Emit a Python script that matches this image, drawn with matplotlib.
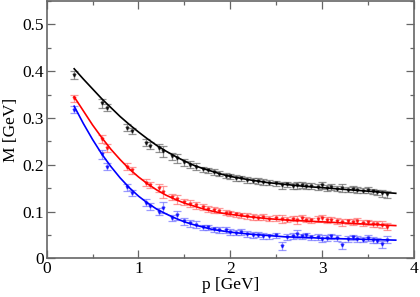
import matplotlib
matplotlib.use("Agg")
import matplotlib.pyplot as plt
from matplotlib.ticker import MultipleLocator

p = [0.3, 0.6, 0.66, 0.88, 0.93, 1.08, 1.13, 1.22, 1.27, 1.36, 1.42, 1.5, 1.56, 1.63, 1.7,
     1.76, 1.82, 1.88, 1.95, 2.0, 2.06, 2.12, 2.18, 2.25, 2.3, 2.36, 2.42, 2.5, 2.56, 2.62,
     2.68, 2.72, 2.78, 2.82, 2.88, 2.95, 3.0, 3.05, 3.1, 3.16, 3.22, 3.28, 3.33, 3.38, 3.44,
     3.5, 3.55, 3.6, 3.65, 3.7]

m_black = [0.392, 0.331, 0.322, 0.279, 0.272, 0.247, 0.241, 0.236, 0.229, 0.218, 0.214, 0.205,
           0.200, 0.196, 0.190, 0.188, 0.184, 0.181, 0.177, 0.175, 0.172, 0.171, 0.168, 0.166,
           0.165, 0.163, 0.162, 0.160, 0.156, 0.158, 0.155, 0.156, 0.157, 0.154, 0.155, 0.153,
           0.156, 0.151, 0.152, 0.149, 0.150, 0.147, 0.148, 0.146, 0.145, 0.146, 0.143, 0.141,
           0.139, 0.137]
m_red = [0.342, 0.255, 0.236, 0.196, 0.188, 0.162, 0.157, 0.150, 0.142, 0.131, 0.126, 0.120,
         0.117, 0.113, 0.110, 0.106, 0.104, 0.102, 0.098, 0.096, 0.094, 0.092, 0.091, 0.088,
         0.087, 0.088, 0.085, 0.086, 0.084, 0.083, 0.085, 0.082, 0.087, 0.083, 0.081, 0.084,
         0.086, 0.082, 0.083, 0.080, 0.077, 0.079, 0.078, 0.080, 0.076, 0.077, 0.074, 0.073,
         0.072, 0.068]
m_blue = [0.318, 0.222, 0.196, 0.152, 0.140, 0.119, 0.111, 0.100, 0.108, 0.086, 0.092, 0.079,
          0.075, 0.072, 0.066, 0.066, 0.062, 0.060, 0.061, 0.057, 0.055, 0.056, 0.052, 0.050,
          0.051, 0.048, 0.047, 0.049, 0.026, 0.046, 0.048, 0.052, 0.047, 0.049, 0.045, 0.046,
          0.042, 0.044, 0.047, 0.043, 0.028, 0.041, 0.045, 0.042, 0.040, 0.043, 0.039, 0.038,
          0.030, 0.040]
err = [0.008, 0.009, 0.008, 0.007, 0.007, 0.007, 0.007, 0.008, 0.012, 0.007, 0.010, 0.007,
       0.007, 0.007, 0.006, 0.006, 0.006, 0.006, 0.006, 0.006, 0.006, 0.006, 0.006, 0.006,
       0.006, 0.006, 0.006, 0.006, 0.008, 0.006, 0.006, 0.008, 0.006, 0.006, 0.006, 0.006,
       0.007, 0.006, 0.006, 0.006, 0.008, 0.006, 0.006, 0.006, 0.006, 0.006, 0.006, 0.006,
       0.008, 0.007]

fit_p = [0.3, 0.4, 0.5, 0.6, 0.7, 0.8, 0.9, 1.0, 1.1, 1.2, 1.3, 1.4, 1.5, 1.6, 1.7, 1.8, 1.9,
         2.0, 2.2, 2.4, 2.6, 2.8, 3.0, 3.2, 3.4, 3.6, 3.8]
fit_black = [0.405, 0.383, 0.362, 0.341, 0.322, 0.303, 0.286, 0.270, 0.255, 0.241, 0.229,
             0.218, 0.208, 0.199, 0.192, 0.186, 0.180, 0.175, 0.168, 0.162, 0.158, 0.154,
             0.151, 0.148, 0.145, 0.142, 0.139]
fit_red = [0.345, 0.315, 0.285, 0.258, 0.233, 0.211, 0.191, 0.174, 0.159, 0.146, 0.135,
           0.126, 0.118, 0.112, 0.106, 0.101, 0.097, 0.094, 0.089, 0.085, 0.082, 0.080,
           0.078, 0.076, 0.074, 0.072, 0.070]
fit_blue = [0.325, 0.288, 0.254, 0.223, 0.196, 0.172, 0.151, 0.133, 0.118, 0.105, 0.095,
            0.086, 0.078, 0.072, 0.067, 0.062, 0.059, 0.056, 0.052, 0.049, 0.046, 0.045,
            0.043, 0.042, 0.041, 0.040, 0.039]

plt.rcParams['font.family'] = ['Liberation Serif', 'DejaVu Serif']
fig = plt.figure(figsize=(4.2, 2.97), dpi=100)
ax = fig.add_axes([0.111, 0.13, 0.875, 0.867])

series = [(m_black, fit_black, 'black', '#666666'),
          (m_red, fit_red, 'red', '#ff7070'),
          (m_blue, fit_blue, 'blue', '#7070ff')]
for m, fit, c, ec in series:
    ax.errorbar(p, m, yerr=err, fmt='v', ms=2.0, color=c, ecolor=ec, elinewidth=0.9,
                capsize=3, capthick=0.9, alpha=0.7, zorder=2)
    ax.plot(fit_p, fit, color=c, lw=1.2, zorder=3)

ax.set_xlim(0, 4)
ax.set_ylim(0, 0.55)
ax.xaxis.set_minor_locator(MultipleLocator(0.5))
ax.yaxis.set_minor_locator(MultipleLocator(0.05))
ax.set_xticks([0, 1, 2, 3, 4])
ax.set_xticklabels(['0', '1', '2', '3', '4'])
ax.set_yticks([0, 0.1, 0.2, 0.3, 0.4, 0.5])
ax.set_yticklabels(['0', '0.1', '0.2', '0.3', '0.4', '0.5'])
ax.tick_params(which='both', direction='in', top=True, right=True, color='#666666',
               labelsize=12.5, width=0.9)
ax.tick_params(which='major', length=6, pad=2)
ax.tick_params(which='minor', length=3)
for s in ax.spines.values():
    s.set_color('#666666')
    s.set_linewidth(1.2)
ax.set_xlabel('p [GeV]', fontsize=12.5, labelpad=0)
ax.set_ylabel('M [GeV]', fontsize=12.5, labelpad=2)
fig.savefig('out.png', dpi=100)
